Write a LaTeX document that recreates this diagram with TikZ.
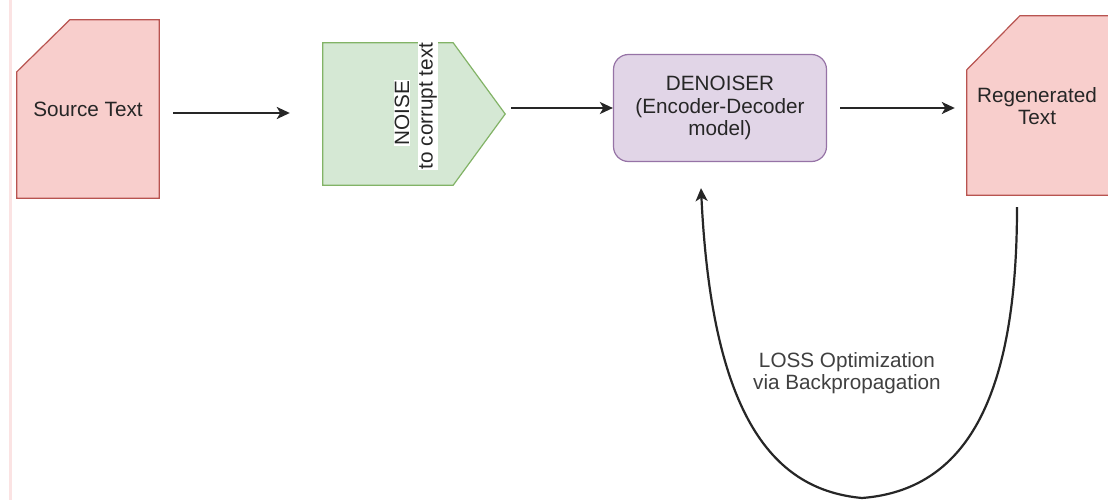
\documentclass[tikz,border=0pt]{standalone}
\usepackage{fontspec}
\setmainfont{Liberation Sans}
\usetikzlibrary{arrows.meta}
\pgfdeclarelayer{background}
\pgfsetlayers{background,main}
\definecolor{pinkfill}{HTML}{F8CECC}
\definecolor{pinkline}{HTML}{B85450}
\definecolor{greenfill}{HTML}{D5E8D4}
\definecolor{greenline}{HTML}{82B366}
\definecolor{lilacfill}{HTML}{E1D5E7}
\definecolor{lilacline}{HTML}{9673A6}
\definecolor{inkgray}{HTML}{262626}
\definecolor{edgepink}{HTML}{FBE3E3}
\tikzset{
  lbl/.style={font=\fontsize{20.7}{22.5}\selectfont, text=inkgray, align=center, inner sep=0pt},
  area/.style={draw=none, inner sep=0pt},
  arr/.style={line width=2.2pt, draw=black!85, -{Stealth[length=13pt, width=12pt, inset=3.5pt]}},
  pinkshape/.style={fill=pinkfill, draw=pinkline, line width=1.2pt, line join=miter},
  greenshape/.style={fill=greenfill, draw=greenline, line width=1.2pt},
}
\begin{document}
\begin{tikzpicture}[x=1pt, y=-1pt]
  \useasboundingbox (0,0) rectangle (1108,500);
  \clip (0,0) rectangle (1108,500);

  % input document
  \node[area, minimum width=142pt, minimum height=178pt] (src) at (88,109) {};
  \node[lbl] (srclbl) at (src.center) {Source Text};

  % noise block
  \node[area, minimum width=130pt, minimum height=142pt] (noise) at (388,114) {};
  \coordinate (noisetip) at ([xshift=52pt]noise.east);
  \node[lbl, rotate=90, fill=white, inner sep=1pt] (noiseA) at (402,113) {NOISE};
  \node[lbl, rotate=90, fill=white, inner sep=1pt] (noiseB) at (428,106) {to corrupt text};

  % denoiser model
  \node[lbl, draw=lilacline, fill=lilacfill, line width=1.2pt, rounded corners=15pt,
        minimum width=213pt, minimum height=107pt] (den) at (720,108)
        {DENOISER\\(Encoder-Decoder\\model)};

  % output document, running past the right edge
  \node[area, minimum width=150pt, minimum height=179pt] (reg) at (1042,105.5) {};
  \node[lbl] (reglbl) at (1037,106) {Regenerated\\Text};

  \begin{pgfonlayer}{background}
    \fill[white] (0,0) rectangle (1108,500);
    \draw[edgepink, line width=3pt] (10,0) -- (10,500);
    \path[pinkshape] (src.south west) -- ([yshift=-52pt]src.north west)
      -- ([xshift=53pt]src.north west) -- (src.north east) -- (src.south east) -- cycle;
    \path[greenshape] (noise.south west) -- (noise.north west) -- (noise.north east)
      -- (noisetip) -- (noise.south east) -- cycle;
    \path[pinkshape] (reg.south west) -- ([yshift=-54pt]reg.north west)
      -- ([xshift=53pt]reg.north west) -- (reg.north east) -- (reg.south east) -- cycle;
  \end{pgfonlayer}

  % forward flow
  \draw[arr, shorten <=14pt, shorten >=33pt] ([yshift=-4pt]src.east) -- ([yshift=-4pt]src.east -| noise.west);
  \draw[arr] ([xshift=6pt]noisetip |- den.west) -- (den.west);
  \draw[arr, shorten <=13pt, shorten >=12pt] (den.east) -- (reg.west |- den.east);

  % feedback loop
  \coordinate (lossbottom) at (862,498);
  \draw[arr] ([shift={(-25pt,-12pt)}]reg.south)
    .. controls (1017,400) and (965,490) .. (lossbottom)
    .. controls (775,490) and (712,420) .. ([shift={(-19pt,-26pt)}]den.south);
  \node[lbl, text=black!75] (loss) at (847,373) {LOSS Optimization\\via Backpropagation};
\end{tikzpicture}
\end{document}
